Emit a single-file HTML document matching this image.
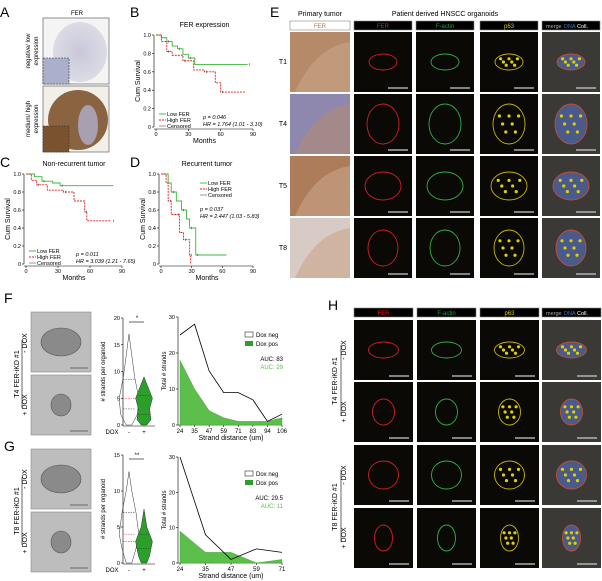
<!DOCTYPE html><html><head><meta charset="utf-8"><style>
html,body{margin:0;padding:0;background:#fff;width:602px;height:581px;overflow:hidden}
svg{display:block;font-family:"Liberation Sans",sans-serif}
</style></head><body>
<svg id="s" width="602" height="581" viewBox="0 0 602 581" xmlns="http://www.w3.org/2000/svg">
<defs>
<radialGradient id="g1"><stop offset="0" stop-color="#c8c8da"/><stop offset="1" stop-color="#dcdce6"/></radialGradient>
</defs>
<g font-size="14" fill="#000"><text x="0" y="17">A</text><text x="130" y="17">B</text><text x="0" y="167">C</text><text x="130" y="167">D</text><text x="270" y="17">E</text><text x="4" y="303">F</text><text x="4" y="451">G</text><text x="328" y="310">H</text></g>
<text x="77" y="15" font-size="6" text-anchor="middle">FER</text>
<rect x="43" y="18" width="66" height="66" fill="#f4f4f4" stroke="#777" stroke-width="0.8"/>
<ellipse cx="80" cy="52" rx="27" ry="30" fill="url(#g1)"/>
<rect x="43" y="58" width="26" height="26" fill="#aab0cc" stroke="#333" stroke-dasharray="2,1" stroke-width="0.6"/>
<rect x="43" y="86" width="66" height="66" fill="#f2efe9" stroke="#777" stroke-width="0.8"/>
<ellipse cx="78" cy="120" rx="30" ry="30" fill="#8a6440"/>
<ellipse cx="88" cy="125" rx="10" ry="20" fill="#a8a0b0"/>
<rect x="43" y="126" width="26" height="26" fill="#7a5230" stroke="#333" stroke-dasharray="2,1" stroke-width="0.6"/>
<text transform="translate(30,51) rotate(-90)" font-size="6" text-anchor="middle">negative/ low</text>
<text transform="translate(38,51) rotate(-90)" font-size="6" text-anchor="middle">expression</text>
<text transform="translate(30,119) rotate(-90)" font-size="6" text-anchor="middle">medium/ high</text>
<text transform="translate(38,119) rotate(-90)" font-size="6" text-anchor="middle">expression</text>
</svg>
<script>
const S=document.getElementById('s'),NS='http://www.w3.org/2000/svg';
function el(t,a,txt){const e=document.createElementNS(NS,t);for(const k in a)e.setAttribute(k,a[k]);if(txt!==undefined)e.textContent=txt;S.appendChild(e);return e;}
function T(x,y,s,o){o=o||{};return el('text',Object.assign({x,y,'font-size':o.fs||5.5,'text-anchor':o.a||'middle',fill:o.f||'#000','font-style':o.i?'italic':'normal'},o.tr?{transform:o.tr}:{}),s);}
function L(x1,y1,x2,y2,c,w,d){return el('line',{x1,y1,x2,y2,stroke:c||'#000','stroke-width':w||0.6,'stroke-dasharray':d||'none'});}
function km(X0,X1,Y0,Y1,title,g,r,leg,stats){
 const xs=m=>X0+(X1-X0)*m/90,ys=s=>Y1-(Y1-Y0)*s;
 T((X0+X1)/2,Y0-8,title,{fs:7});
 L(X0-2,Y0,X0-2,Y1);L(X0-2,Y1+2,X1,Y1+2);
 [0,.2,.4,.6,.8,1].forEach(v=>{L(X0-4,ys(v),X0-2,ys(v));T(X0-5,ys(v)+2,v==0?'0':v.toFixed(1),{a:'end'})});
 [0,30,60,90].forEach(v=>{L(xs(v),Y1+2,xs(v),Y1+4);T(xs(v),Y1+9,v)});
 T((X0+X1)/2,Y1+16,'Months',{fs:7});
 T(0,0,'Cum Survival',{fs:7,tr:`translate(${X0-16},${(Y0+Y1)/2}) rotate(-90)`});
 [[g,'#3cb43c','none'],[r,'#e02020','2,1']].forEach(([p,c,d])=>{let s=`M${xs(p[0][0])},${ys(p[0][1])}`;for(let i=1;i<p.length;i++){s+=`H${xs(p[i][0])}V${ys(p[i][1])}`;}
  el('path',{d:s,fill:'none',stroke:c,'stroke-width':0.9,'stroke-dasharray':d});
  for(let i=2;i<p.length;i+=2)L(xs(p[i][0])+2,ys(p[i][1])-1.2,xs(p[i][0])+2,ys(p[i][1])+1.2,'#333',0.5);});
 const [lx,ly]=leg;
 L(lx,ly,lx+7,ly,'#3cb43c',0.9);T(lx+8,ly+2,'Low FER',{a:'start'});
 L(lx,ly+6,lx+7,ly+6,'#e02020',0.9,'2,1');T(lx+8,ly+8,'High FER',{a:'start'});
 L(lx,ly+12,lx+7,ly+12,'#333',0.5);T(lx+8,ly+14,'Censored',{a:'start'});
 T(stats[0],stats[1],stats[2],{a:'start',i:1});T(stats[0],stats[1]+7,stats[3],{a:'start',i:1});
}
km(156,253,35,127,'FER expression',[[0,1],[5,.97],[10,.93],[15,.88],[20,.85],[25,.79],[30,.75],[36,.68],[85,.68]],[[0,1],[5,.93],[10,.82],[15,.78],[25,.72],[35,.62],[45,.6],[55,.48],[60,.38],[83,.38]],[159,114],[203,119,'p = 0.046','HR = 1.764 (1.01 - 3.10)']);
km(26,122,174,264,'Non-recurrent tumor',[[0,1],[8,.97],[15,.92],[25,.9],[32,.87],[82,.87]],[[0,1],[5,.93],[10,.88],[20,.82],[35,.8],[45,.7],[55,.58],[57,.48],[80,.48]],[29,251],[76,256,'p = 0.011','HR = 3.039 (1.21 - 7.65)']);
km(161,253,174,264,'Recurrent tumor',[[0,1],[7,.9],[10,.8],[15,.7],[20,.6],[25,.5],[28,.4],[33,.4],[34,.1],[64,.1]],[[0,1],[5,.9],[7,.7],[10,.55],[15,.55],[18,.35],[22,.27],[25,.27],[28,.1],[29,0]],[200,183],[200,211,'p = 0.037','HR = 2.447 (1.03 - 5.83)']);
T(320,16,'Primary tumor',{fs:7});T(445,16,'Patient derived HNSCC organoids',{fs:7});
const hdr=[[290,350,'FER','#b0784a','#fff'],[354,412,'FER','#e02020','#000'],[416,474,'F-actin','#20a040','#000'],[480,538,'p63','#d8c800','#000'],[542,600,'merge','#aaa','#000']];
function header(y,cols){cols.forEach(c=>{el('rect',{x:c[0],y,width:c[1]-c[0],height:9,fill:c[4],stroke:'#888','stroke-width':0.6});
 if(c[2]=='merge'){T(c[0]+4,y+7,'merge',{a:'start',f:'#aaa',fs:5.5});T(c[0]+22,y+7,'DNA',{a:'start',f:'#3a7ad0',fs:5.5});T(c[0]+35,y+7,'Coll.',{a:'start',f:'#fff',fs:5.5});}
 else T((c[0]+c[1])/2,y+7,c[2],{f:c[3],fs:6});});}
header(21,hdr);
const tis=['#b58a68','#8e88ae','#ad7c5a','#d8cac4'];
const rowsE=[[32,'T1'],[94,'T4'],[156,'T5'],[218,'T8']];
function blob(cx,cy,rx,ry,c,fill){return el('ellipse',{cx,cy,rx,ry,fill:fill||'none',stroke:c,'stroke-width':0.9});}
function micro(cols,y,h,i,shape){
 cols.forEach((c,j)=>{const x=c[0],w=c[1]-c[0];
  if(j==0&&cols.length==5){el('rect',{x,y,width:w,height:h,fill:tis[i]});el('path',{d:`M${x+5},${y+h} Q${x+25},${y+15} ${x+w},${y+10} V${y+h}Z`,fill:i==1?'#b08a70':'#c9a58a',opacity:0.6});return;}
  const isM=c[2]=='merge';el('rect',{x,y,width:w,height:h,fill:isM?'#3a3936':'#0a0906'});
  const cx=x+w/2,cy=y+h/2,[rx,ry]=shape;
  const col=c[2]=='FER'?'#d02020':c[2]=='F-actin'?'#30b040':c[2]=='p63'?'#c8b400':'#c05030';
  blob(cx,cy,rx,ry,col,isM?'#4a5a8a':'none');
  if(c[2]=='p63'||isM)for(let k=0;k<7;k++)el('circle',{cx:cx-rx*0.6+k*rx*0.2,cy:cy+((k%3)-1)*ry*0.4,r:1.6,fill:'#e0d000'});
  L(x+w-24,y+h-4,x+w-4,y+h-4,'#ccc',1.2);
 });}
rowsE.forEach((r,i)=>{T(283,r[0]+32,r[1],{fs:7});micro(hdr,r[0],60,i,[[14,8],[16,20],[18,14],[15,18]][i]);});
function bf(y,big){el('rect',{x:31,y,width:60,height:60,fill:'#bdbdbd',stroke:'#888','stroke-width':0.6});
 el('ellipse',{cx:61,cy:y+30,rx:big?20:10,ry:big?14:11,fill:'#8a8a8a',stroke:'#555','stroke-width':0.6});L(70,y+56,88,y+56,'#666',1);}
bf(312,1);bf(375,0);bf(449,1);bf(512,0);
[[343,'- DOX'],[405,'+ DOX'],[479,'- DOX'],[543,'+ DOX']].forEach(([y,s])=>T(0,0,s,{fs:7,tr:`translate(27,${y}) rotate(-90)`}));
T(0,0,'T4 FER-iKD #1',{fs:7,tr:'translate(19,374) rotate(-90)'});L(22,340,22,408);
T(0,0,'T8 FER-iKD #1',{fs:7,tr:'translate(19,511) rotate(-90)'});L(22,477,22,545);
function violin(Y0,Y1,max,ticks,star,shapeA,shapeB,medA,medB){const ys=v=>Y1-(Y1-Y0)*v/max;
 L(123,Y0,123,Y1+1);ticks.forEach(v=>{L(121,ys(v),123,ys(v));T(120,ys(v)+2,v,{a:'end'})});
 L(123,Y1+1,155,Y1+1);T(0,0,'# strands per organoid',{fs:6,tr:`translate(105,${(Y0+Y1)/2}) rotate(-90)`});
 T(112,Y1+9,'DOX',{fs:6});T(129,Y1+9,'-',{fs:6});T(144,Y1+9,'+',{fs:6});
 L(129,Y0+4,144,Y0+4);T(137,Y0+2,star,{fs:6});
 [[129,shapeA,'none',medA],[144,shapeB,'#2aa02a',medB]].forEach(([cx,sh,f,md])=>{let l=`M${cx},${ys(sh[0][0])}`,r='';sh.forEach(([v,w])=>{l+=`L${cx-w*1.4},${ys(v)}`;});
  for(let k=sh.length-1;k>=0;k--)r+=`L${cx+sh[k][1]*1.4},${ys(sh[k][0])}`;el('path',{d:l+r+'Z',fill:f,stroke:'#333','stroke-width':0.5});
  (md||[]).forEach((v,k)=>L(cx-6,ys(v),cx+6,ys(v),k==1?'#e03030':'#333',0.5,'1.5,1'));});
}
violin(318,425,20,[0,5,10,15,20],'*',[[17,0],[13,2],[9,4],[5,7],[2,6],[0,2]],[[9,0],[7,3],[5,6],[3,4],[1,5],[0,2]],[3,5,8.5],[2,4,5.5]);
violin(455,563,15,[0,5,10,15],'**',[[12.7,0],[10,2],[7,5],[4,7],[2,5],[0,2]],[[7.5,0],[5,2],[3,6],[1,4],[0,2]],[3,4,7],[2,3,4]);
function area(Y0,Y1,ticks,blk,grn,auc,legY){const X0=180,X1=282,xs=i=>X0+(X1-X0)*i/(ticks.length-1),ys=v=>Y1-(Y1-Y0)*v/30;
 L(X0-2,Y0,X0-2,Y1);[0,10,20,30].forEach(v=>{L(X0-4,ys(v),X0-2,ys(v));T(X0-5,ys(v)+2,v,{a:'end'})});
 L(X0-2,Y1,X1,Y1);ticks.forEach((t,i)=>{L(xs(i),Y1,xs(i),Y1+2);T(xs(i),Y1+8,t,{fs:6})});
 T(231,Y1+15,'Strand distance (um)',{fs:7});T(0,0,'Total # strands',{fs:6,tr:`translate(166,${(Y0+Y1)/2}) rotate(-90)`});
 let g=`M${X0},${Y1}`;grn.forEach((v,i)=>g+=`L${xs(i)},${ys(v)}`);g+=`L${X1},${Y1}Z`;el('path',{d:g,fill:'#5cbf4c',stroke:'#3a9a30','stroke-width':0.4});
 el('polyline',{points:blk.map((v,i)=>xs(i)+','+ys(v)).join(' '),fill:'none',stroke:'#000','stroke-width':0.8});
 el('rect',{x:245,y:legY-4,width:8,height:5,fill:'#fff',stroke:'#000','stroke-width':0.5});T(256,legY+1,'Dox neg',{a:'start',fs:6});
 el('rect',{x:245,y:legY+5,width:8,height:5,fill:'#2aa02a'});T(256,legY+10,'Dox pos',{a:'start',fs:6});
 T(283,legY+25,'AUC: '+auc[0],{a:'end',fs:6});T(283,legY+33,'AUC: '+auc[1],{a:'end',fs:6,f:'#5cbf4c'});
}
area(317,425,[24,35,47,59,71,83,94,106],[25,28,15,9,9,7,1,3],[18,10,4,2,1,1,1,2],['83','29'],336);
area(457,563,[24,35,47,59,71],[30,8,1,4,3],[9,3,3,0,1],['29.5','11'],475);
const hh=[[354,413,'FER','#e02020','#000'],[417,476,'F-actin','#20a040','#000'],[480,539,'p63','#d8c800','#000'],[542,601,'merge','#aaa','#000']];
header(308,hh);
[[320,0,'- DOX',[15,8]],[382,1,'+ DOX',[11,13]],[445,2,'- DOX',[15,14]],[508,3,'+ DOX',[9,13]]].forEach(([y,i,s,sh])=>{micro(hh,y,60,i,sh);T(0,0,s,{fs:7,tr:`translate(346,${y+30}) rotate(-90)`});});
T(0,0,'T4 FER-iKD #1',{fs:7,tr:'translate(337,381) rotate(-90)'});L(341,345,341,416);
T(0,0,'T8 FER-iKD #1',{fs:7,tr:'translate(337,507) rotate(-90)'});L(341,470,341,542);
</script>
</body></html>
